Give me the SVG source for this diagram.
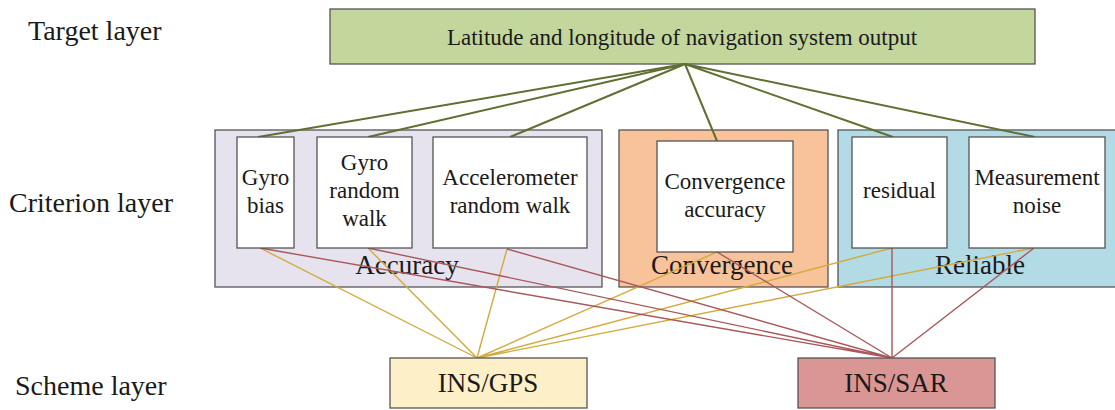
<svg xmlns="http://www.w3.org/2000/svg" width="1115" height="410" viewBox="0 0 1115 410">
  <style>
    text { font-family: "Liberation Serif", "Times New Roman", serif; fill: #1a1a1a; text-anchor: middle; }
    .layer { font-size: 28px; text-anchor: start; }
    .box { stroke: #555; stroke-width: 1.3; }
    .inner { fill: #ffffff; stroke: #555; stroke-width: 1.3; }
    .t { font-size: 23px; }
    .g { font-size: 27px; }
    .top { stroke: #5f7032; stroke-width: 2; fill: none; }
    .gps { stroke: #d3aa3c; stroke-width: 1.4; fill: none; }
    .sar { stroke: #a9585a; stroke-width: 1.4; fill: none; }
  </style>

  <!-- layer titles -->
  <text class="layer" x="28" y="40">Target layer</text>
  <text class="layer" x="9" y="212">Criterion layer</text>
  <text class="layer" x="15" y="395">Scheme layer</text>

  <!-- target -->
  <g id="target">
    <rect class="box" x="330" y="9" width="705" height="55" fill="#c3d69b"/>
    <text x="682" y="45" style="font-size:23px">Latitude and longitude of navigation system output</text>
  </g>

  <!-- criterion groups -->
  <g id="accuracy">
    <rect class="box" x="215" y="130" width="387" height="157" fill="#e7e3ee"/>
    <text class="g" x="407" y="274">Accuracy</text>
  </g>
  <g id="convergence">
    <rect class="box" x="619" y="130" width="209" height="157" fill="#f8c39a"/>
    <text class="g" x="722" y="274">Convergence</text>
  </g>
  <g id="reliable">
    <rect class="box" x="838" y="130" width="280" height="157" fill="#b3dbe6"/>
    <text class="g" x="980" y="274">Reliable</text>
  </g>

  <!-- connectors -->
  <g id="connectors">
    <path class="top" d="M685 64L258 137M685 64L368 137M685 64L510 137M685 64L717 141M685 64L893 137M685 64L1035 137"/>
    <path class="gps" d="M477 358L260 248M477 358L368 248M477 358L507 249M477 358L717 252M477 358L892 248M477 358L1034 248"/>
    <path class="sar" d="M892 358L260 248M892 358L368 248M892 358L507 249M892 358L717 252M892 358L892 248M892 358L1034 248"/>
  </g>

  <!-- criteria -->
  <g id="gyro-bias">
    <rect class="inner" x="237" y="137" width="57" height="111"/>
    <text class="t" x="265.5" y="185">Gyro</text>
    <text class="t" x="265.5" y="213">bias</text>
  </g>
  <g id="gyro-random-walk">
    <rect class="inner" x="317" y="137" width="95" height="111"/>
    <text class="t" x="364.5" y="170">Gyro</text>
    <text class="t" x="364.5" y="198">random</text>
    <text class="t" x="364.5" y="226">walk</text>
  </g>
  <g id="accelerometer-random-walk">
    <rect class="inner" x="433" y="137" width="154" height="111"/>
    <text class="t" x="510" y="185">Accelerometer</text>
    <text class="t" x="510" y="213">random walk</text>
  </g>
  <g id="convergence-accuracy">
    <rect class="inner" x="657" y="141" width="136" height="111"/>
    <text class="t" x="725" y="189">Convergence</text>
    <text class="t" x="725" y="217">accuracy</text>
  </g>
  <g id="residual">
    <rect class="inner" x="852" y="137" width="95" height="111"/>
    <text class="t" x="899.5" y="198">residual</text>
  </g>
  <g id="measurement-noise">
    <rect class="inner" x="969" y="137" width="136" height="111"/>
    <text class="t" x="1037" y="185">Measurement</text>
    <text class="t" x="1037" y="213">noise</text>
  </g>

  <!-- schemes -->
  <g id="ins-gps">
    <rect class="box" x="390" y="358" width="197" height="50" fill="#fdf0c8"/>
    <text class="g" x="488" y="392">INS/GPS</text>
  </g>
  <g id="ins-sar">
    <rect class="box" x="798" y="358" width="197" height="50" fill="#d99694"/>
    <text class="g" x="896" y="392">INS/SAR</text>
  </g>
</svg>
